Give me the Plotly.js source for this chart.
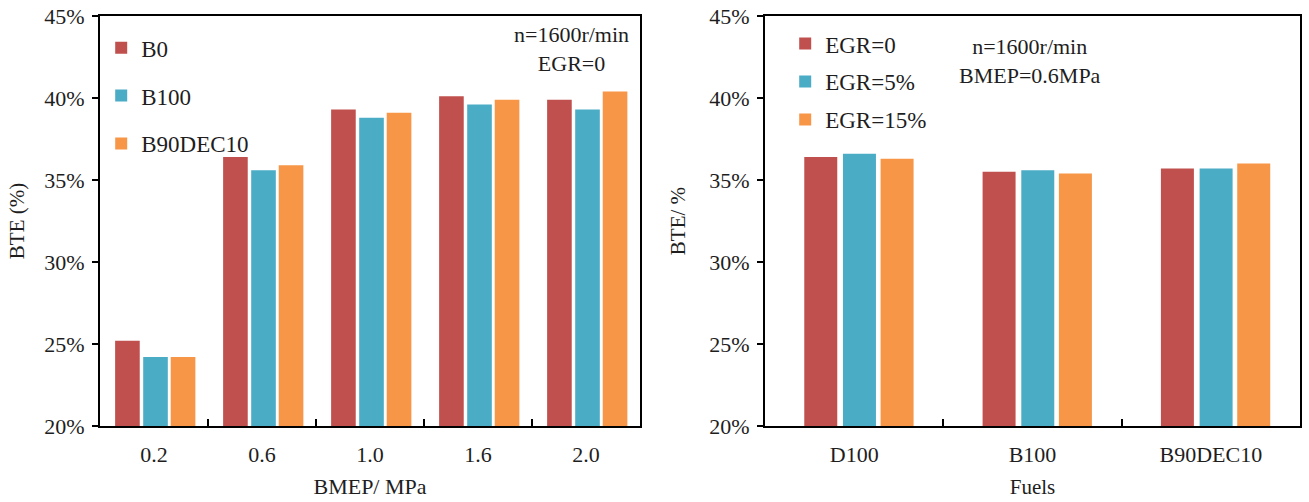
<!DOCTYPE html>
<html>
<head>
<meta charset="utf-8">
<script src="https://cdn.plot.ly/plotly-3.0.1.min.js"></script>
<style>html,body{margin:0;padding:0;background:#fff;}#chart{width:1309px;height:502px;}</style>
</head>
<body>
<div id="chart"></div>
<script>
// Left panel: BTE vs BMEP
const bmepLabels = ['0.2', '0.6', '1.0', '1.6', '2.0'];
const bteB0 = [25.2, 36.4, 39.3, 40.1, 39.9];
const bteB100 = [24.2, 35.6, 38.8, 39.6, 39.3];
const bteB90DEC10 = [24.2, 35.9, 39.1, 39.9, 40.4];

// Right panel: BTE vs fuels at different EGR
const fuelLabels = ['D100', 'B100', 'B90DEC10'];
const bteEGR0 = [36.4, 35.5, 35.7];
const bteEGR5 = [36.6, 35.6, 35.7];
const bteEGR15 = [36.3, 35.4, 36.0];

const red = '#C0504D', blue = '#4BACC6', orange = '#F79646';
const serif = 'Liberation Serif';

const leftW = 0.228, leftOff = [-0.36, -0.10, 0.155];
const rightW = 0.185, rightOff = [-0.28, -0.063, 0.148];

function bar(x, y, name, color, xa, ya, w, off, legend, grp) {
  return {type: 'bar', x: x, y: y, name: name, xaxis: xa, yaxis: ya,
    width: w, offset: off, legend: legend, legendgroup: grp,
    marker: {color: color, line: {width: 0}}, hoverinfo: 'y'};
}

const data = [
  bar(bmepLabels, bteB0, 'B0', red, 'x', 'y', leftW, leftOff[0], 'legend', 'a'),
  bar(bmepLabels, bteB100, 'B100', blue, 'x', 'y', leftW, leftOff[1], 'legend', 'b'),
  bar(bmepLabels, bteB90DEC10, 'B90DEC10', orange, 'x', 'y', leftW, leftOff[2], 'legend', 'c'),
  bar(fuelLabels, bteEGR0, 'EGR=0', red, 'x2', 'y2', rightW, rightOff[0], 'legend2', 'd'),
  bar(fuelLabels, bteEGR5, 'EGR=5%', blue, 'x2', 'y2', rightW, rightOff[1], 'legend2', 'e'),
  bar(fuelLabels, bteEGR15, 'EGR=15%', orange, 'x2', 'y2', rightW, rightOff[2], 'legend2', 'f')
];

const txt = '#1e1e1e';
const tickFont = {family: serif, size: 22, color: txt};

function yax(domainAnchor, title, standoff, size) {
  return {anchor: domainAnchor, domain: [0, 1], range: [20, 45], dtick: 5, tick0: 20,
    ticksuffix: '%', showgrid: false, zeroline: false, showline: true, mirror: true,
    linecolor: '#000', linewidth: 2, ticks: 'outside', ticklen: 6, tickwidth: 2, tickcolor: '#000',
    tickfont: tickFont, ticklabelstandoff: 3,
    title: {text: title, font: {family: serif, size: size, color: txt}, standoff: standoff}};
}
function xax(domain, anchor, title, size, standoff) {
  return {domain: domain, anchor: anchor, type: 'category', showgrid: false, zeroline: false,
    showline: true, mirror: true, linecolor: '#000', linewidth: 2,
    ticks: 'inside', tickson: 'boundaries', ticklen: 7, tickwidth: 2, tickcolor: '#000',
    tickfont: tickFont, ticklabelstandoff: 8,
    title: {text: title, font: {family: serif, size: size, color: txt}, standoff: standoff}};
}

const layout = {
  width: 1309, height: 502,
  margin: {l: 100, r: 9, t: 16, b: 76},
  paper_bgcolor: '#fff', plot_bgcolor: '#fff',
  barmode: 'overlay',
  showlegend: true,
  xaxis: xax([0, 0.45], 'y', 'BMEP/ MPa', 22, 12),
  yaxis: yax('x', 'BTE (%)', 14, 21),
  xaxis2: xax([0.5542, 1.0], 'y2', 'Fuels', 21, 13),
  yaxis2: yax('x2', 'BTE/ %', 18, 21),
  legend: {x: 0.001, y: 0.975, xanchor: 'left', yanchor: 'top', bgcolor: 'rgba(0,0,0,0)',
    font: {family: serif, size: 23, color: txt}, tracegroupgap: 15, traceorder: 'grouped',
    itemwidth: 30},
  legend2: {x: 0.571, y: 0.985, xanchor: 'left', yanchor: 'top', bgcolor: 'rgba(0,0,0,0)',
    font: {family: serif, size: 23, color: txt}, tracegroupgap: 5, traceorder: 'grouped',
    itemwidth: 30},
  annotations: [
    {xref: 'x domain', yref: 'y domain', x: 0.874, y: 0.99, xanchor: 'center', yanchor: 'top',
     text: 'n=1600r/min<br>EGR=0', showarrow: false, align: 'center',
     font: {family: serif, size: 22, color: txt}},
    {xref: 'x2 domain', yref: 'y2 domain', x: 0.495, y: 0.96, xanchor: 'center', yanchor: 'top',
     text: 'n=1600r/min<br>BMEP=0.6MPa', showarrow: false, align: 'center',
     font: {family: serif, size: 22, color: txt}}
  ]
};

Plotly.newPlot('chart', data, layout, {staticPlot: true, displayModeBar: false});
</script>
</body>
</html>
